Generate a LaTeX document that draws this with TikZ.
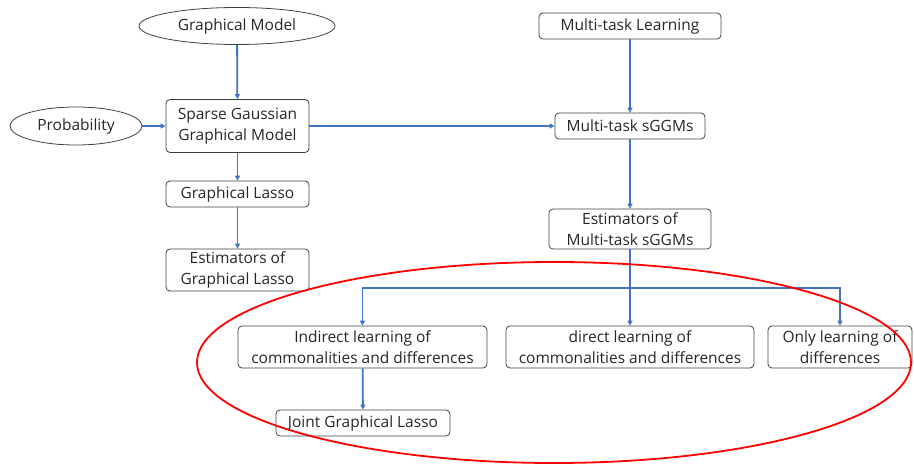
\documentclass[tikz,border=0pt]{standalone}
\usepackage{fontspec}
\setmainfont{Open Sans}
\usetikzlibrary{shapes.geometric,arrows.meta}
\definecolor{linkblue}{HTML}{4472C4}
\definecolor{boxgray}{HTML}{404040}
\definecolor{textgray}{HTML}{262626}
\tikzset{box node/.style={draw=boxgray,line width=0.8pt,rounded corners=4pt,align=center,inner sep=0pt,text=textgray,font=\fontsize{15.5}{21}\selectfont},
	oval node/.style={ellipse,draw=boxgray,line width=0.8pt,inner sep=0pt,text=textgray,font=\fontsize{15.5}{21}\selectfont},
	link/.style={draw=linkblue,line width=1.8pt,-{Triangle[length=5pt,width=5pt]}},
}

\begin{document}
\begin{tikzpicture}[x=1pt,y=-1pt]
	\useasboundingbox (0,0) rectangle (914,465);
	% left column
	\node[oval node,minimum width=196pt,minimum height=37pt] (gm) at (237,26) {Graphical Model};
	\node[oval node,minimum width=132pt,minimum height=38pt] (prob) at (76,126) {Probability};
	\node[box node,minimum width=143pt,minimum height=53pt] (sggm) at (237.5,126) {Sparse Gaussian\\Graphical Model};
	\node[box node,minimum width=143pt,minimum height=26pt] (glasso) at (237.5,194) {Graphical Lasso};
	\node[box node,minimum width=143pt,minimum height=42pt] (estgl) at (237.5,270) {Estimators of\\Graphical Lasso};
	% right column
	\node[box node,minimum width=182pt,minimum height=26pt] (mtl) at (630,26) {Multi-task Learning};
	\node[box node,minimum width=150pt,minimum height=26pt] (mtsggm) at (630,126) {Multi-task sGGMs};
	\node[box node,minimum width=162pt,minimum height=40pt] (estmt) at (630,229) {Estimators of\\Multi-task sGGMs};
	% bottom row
	\node[box node,minimum width=249pt,minimum height=42pt] (indirect) at (362.5,347) {Indirect learning of\\commonalities and differences};
	\node[box node,minimum width=248pt,minimum height=42pt] (direct) at (630,347) {direct learning of\\commonalities and differences};
	\node[box node,minimum width=144pt,minimum height=42pt] (onlydiff) at (840,347) {Only learning of\\differences};
	\node[box node,minimum width=174pt,minimum height=26pt] (jgl) at (363,423) {Joint Graphical Lasso};
	\coordinate (split) at (630,288);

	\draw[link] (gm) -- (sggm);
	\draw[link] (prob) -- (sggm);
	\draw[link] (sggm) -- (glasso);
	\draw[link] (glasso) -- (estgl);
	\draw[link] (sggm) -- (mtsggm);
	\draw[link] (mtl) -- (mtsggm);
	\draw[link] (mtsggm) -- (estmt);
	\draw[link] (estmt) -- (direct);
	\draw[link] (split) -| (indirect);
	\draw[link] (split) -| (onlydiff);
	\draw[link] (indirect) -- (jgl);

	\draw[red,line width=1.8pt] (554,362.5) ellipse [x radius=357pt,y radius=100.5pt];
\end{tikzpicture}
\end{document}
